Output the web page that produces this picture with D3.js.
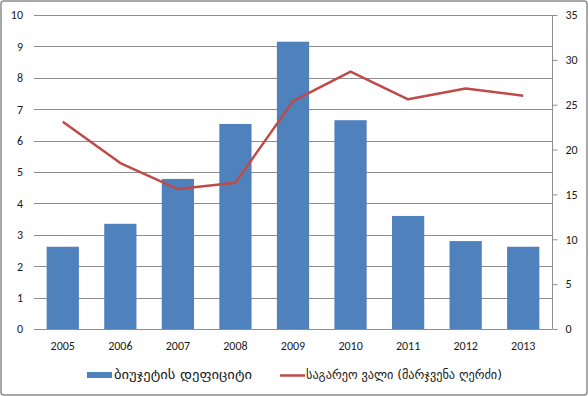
<!DOCTYPE html>
<html>
<head>
<meta charset="utf-8">
<script src="https://cdn.jsdelivr.net/npm/d3@7"></script>
<style>
  body { margin: 0; background: #fff; }
  text { font-family: Carlito, "Liberation Sans", "DejaVu Sans", sans-serif; fill: #1a1a1a; }
  .geo { font-family: "DejaVu Sans", sans-serif; }
</style>
</head>
<body>
<svg id="chart" width="588" height="396"></svg>
<script>
// data
var years = ["2005", "2006", "2007", "2008", "2009", "2010", "2011", "2012", "2013"];
var deficit = [2.62, 3.35, 4.78, 6.53, 9.15, 6.65, 3.6, 2.8, 2.62];
var debt = [23.1, 18.5, 15.6, 16.3, 25.4, 28.7, 25.6, 26.8, 26.0];
var leftTicks = [0, 1, 2, 3, 4, 5, 6, 7, 8, 9, 10];
var rightTicks = [0, 5, 10, 15, 20, 25, 30, 35];
var legendNames = ["ბიუჯეტის დეფიციტი", "საგარეო ვალი (მარჯვენა ღერძი)"];

var svg = d3.select("#chart");

// outer frame
svg.append("rect")
  .attr("x", 1).attr("y", 1)
  .attr("width", 586).attr("height", 394)
  .attr("rx", 3)
  .attr("fill", "#fff")
  .attr("stroke", "#8c8c8c")
  .attr("stroke-width", 1.5);

var x = d3.scaleBand()
  .domain(years)
  .range([34, 552])
  .paddingInner(0.44)
  .paddingOuter(0.22);

var y = d3.scaleLinear()
  .domain([0, 10])
  .range([329, 15]);

var y2 = d3.scaleLinear()
  .domain([0, 35])
  .range([329, 15]);

// gridlines
svg.append("g")
  .selectAll("line")
  .data(leftTicks.slice(1))
  .enter()
  .append("line")
  .attr("x1", 34).attr("x2", 552)
  .attr("y1", function (d) { return Math.round(y(d)) + 0.5; })
  .attr("y2", function (d) { return Math.round(y(d)) + 0.5; })
  .attr("stroke", "#8e8e8e")
  .attr("stroke-width", 1);

// left axis (labels only)
var gl = svg.append("g")
  .attr("transform", "translate(34,0)")
  .call(d3.axisLeft(y).tickValues(leftTicks).tickSize(0).tickPadding(11));
gl.select(".domain").remove();
gl.selectAll("text").style("font-size", "12px");

// bars
svg.append("g")
  .selectAll("rect")
  .data(deficit)
  .enter()
  .append("rect")
  .attr("x", function (d, i) { return x(years[i]); })
  .attr("width", x.bandwidth())
  .attr("y", function (d) { return y(d); })
  .attr("height", function (d) { return y(0) - y(d); })
  .attr("fill", "#4f81bd");

// bottom axis
var gb = svg.append("g")
  .attr("transform", "translate(0,329.5)")
  .call(d3.axisBottom(x).tickSize(0).tickPadding(12));
gb.select(".domain").attr("stroke", "#8e8e8e").attr("d", "M34,0H552");
gb.selectAll("text").style("font-size", "12px");

// right axis
var gr = svg.append("g")
  .attr("transform", "translate(552.5,0)")
  .call(d3.axisRight(y2).tickValues(rightTicks).tickSize(5).tickPadding(8));
gr.select(".domain").attr("stroke", "#8e8e8e").attr("d", "M0,15V329");
gr.selectAll(".tick line").attr("stroke", "#8e8e8e");
gr.selectAll("text").style("font-size", "12px");

// debt line
var line = d3.line()
  .x(function (d, i) { return x(years[i]) + x.bandwidth() / 2; })
  .y(function (d) { return y2(d); });

svg.append("path")
  .datum(debt)
  .attr("d", line)
  .attr("fill", "none")
  .attr("stroke", "#be4b48")
  .attr("stroke-width", 2.5)
  .attr("stroke-linejoin", "round");

// legend
var lg = svg.append("g");
lg.append("rect")
  .attr("x", 87).attr("y", 372)
  .attr("width", 25).attr("height", 6)
  .attr("fill", "#4f81bd");
lg.append("text")
  .attr("class", "geo")
  .attr("x", 114).attr("y", 379)
  .attr("textLength", 138)
  .attr("lengthAdjust", "spacingAndGlyphs")
  .style("font-size", "13px")
  .text(legendNames[0]);
lg.append("line")
  .attr("x1", 280).attr("x2", 305)
  .attr("y1", 375.5).attr("y2", 375.5)
  .attr("stroke", "#be4b48")
  .attr("stroke-width", 2.5);
lg.append("text")
  .attr("class", "geo")
  .attr("x", 306).attr("y", 379)
  .attr("textLength", 196)
  .attr("lengthAdjust", "spacingAndGlyphs")
  .style("font-size", "13px")
  .text(legendNames[1]);
</script>
</body>
</html>
